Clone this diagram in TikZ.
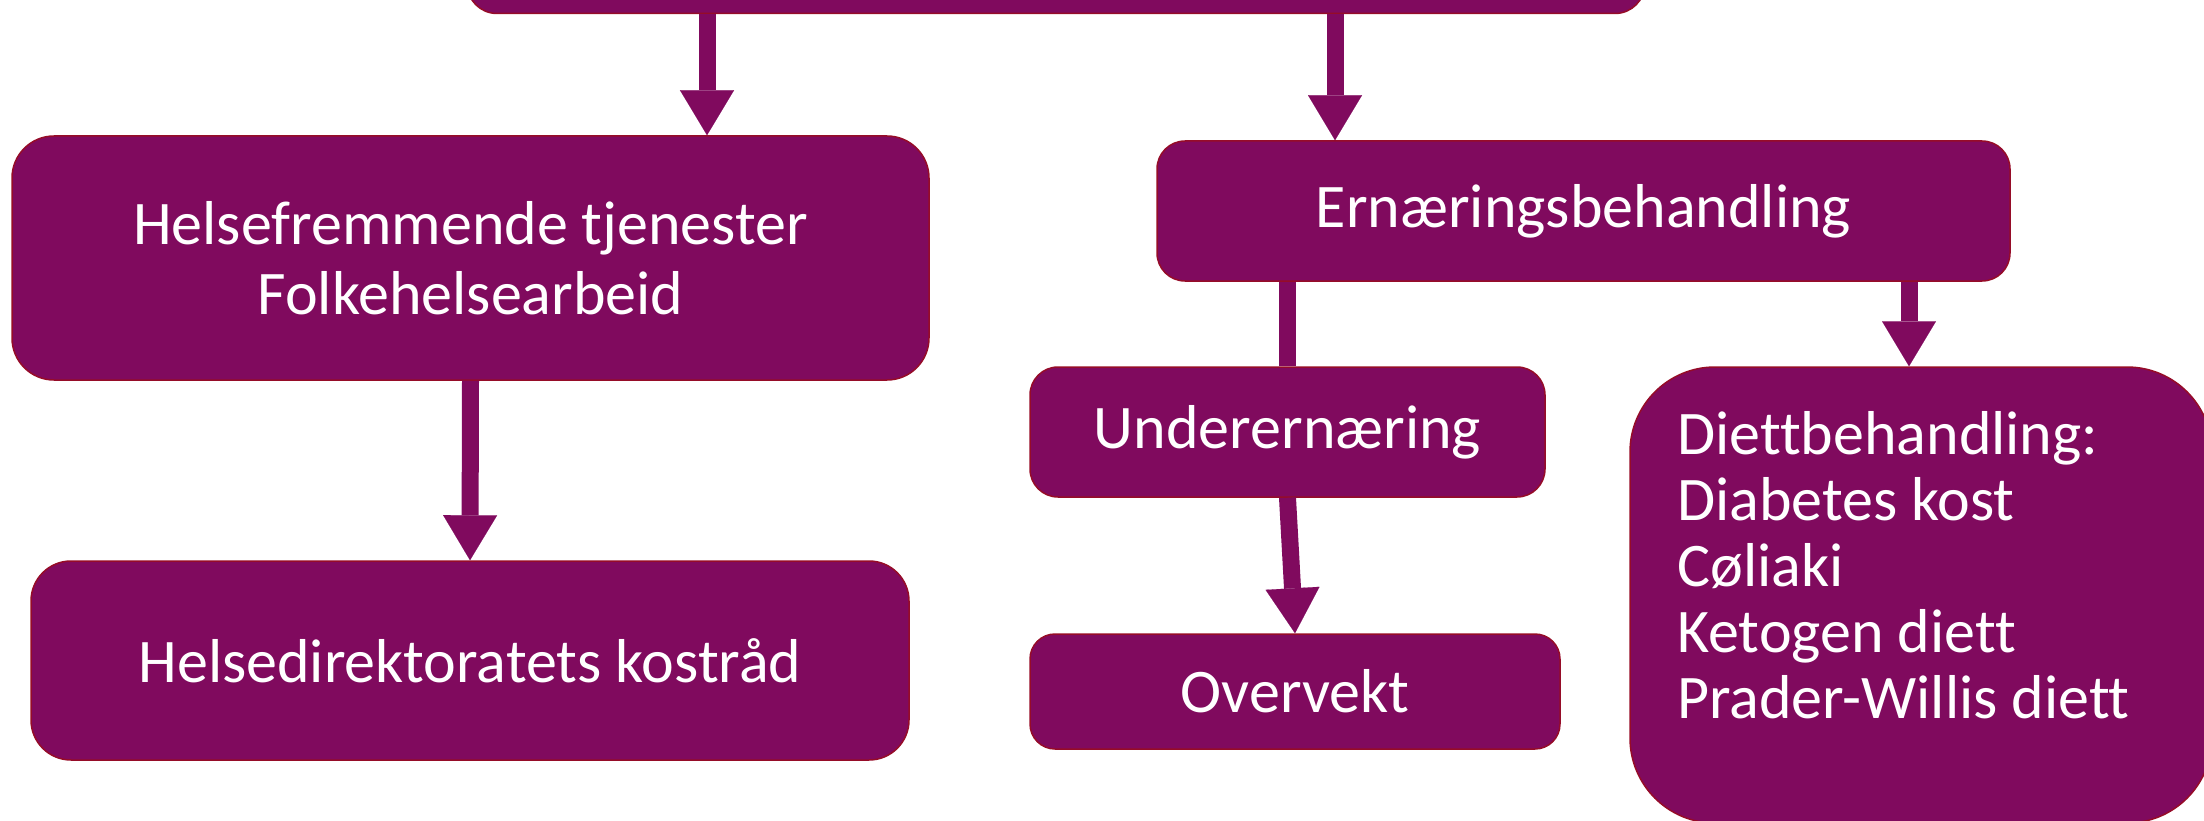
\documentclass[tikz,border=0pt]{standalone}
\usepackage{fontspec}
\setmainfont{Carlito}[Ligatures={NoCommon}]
\usetikzlibrary{arrows.meta}
\definecolor{plum}{RGB}{128,10,94}
\definecolor{rim}{RGB}{150,12,40}
\begin{document}
\begin{tikzpicture}[x=1pt,y=-1pt,
  box/.style={draw=rim,line width=1.5pt,fill=plum,text=white,inner sep=0pt,
    font=\fontsize{62}{70}\selectfont,align=center},
  arr/.style={draw=plum,line width=17pt,-{Triangle[width=54pt,length=45pt,line width=0.1pt]}},
  bar/.style={draw=plum,line width=17pt}]
\clip (0,0) rectangle (2204,821);
\node[box,rounded corners=30pt,minimum width=1178pt,minimum height=113pt] (top) at (1056,-43) {};
\node[box,rounded corners=42pt,minimum width=917pt,minimum height=244pt] (b1) at (470.5,258)
  {Helsefremmende tjenester\\Folkehelsearbeid};
\node[box,rounded corners=40pt,minimum width=878pt,minimum height=199pt] (b2) at (470,660.5)
  {Helsedirektoratets kostråd};
\node[box,rounded corners=28pt,minimum width=853pt,minimum height=140pt] (b3) at (1583.5,211)
  {Ernæringsbehandling};
\node[box,rounded corners=28pt,minimum width=515pt,minimum height=130pt] (under) at (1287.5,432)
  {Underernæring};
\node[box,rounded corners=25pt,minimum width=530pt,minimum height=115pt] (over) at (1295,691.5)
  {Overvekt};
\node[box,rounded corners=85pt,minimum width=582pt,minimum height=456pt] (diett) at (1921,595) {};
\node[text=white,inner sep=0pt,anchor=west,align=left,font=\fontsize{62}{66}\selectfont] (dtext) at (1677,565)
  {Diettbehandling:\\Diabetes kost\\Cøliaki\\Ketogen diett\\Prader-Willis diett};
\coordinate (ax1) at (707,0);
\coordinate (ax2) at (1335,0);
\coordinate (ax3) at (1909,0);
\draw[arr] (top.south -| ax1) -- (b1.north -| ax1);
\draw[arr] (top.south -| ax2) -- (b3.north -| ax2);
\draw[arr] (b1.south) -- (b2.north);
\draw[bar] (b3.south -| under.north) -- (under.north);
\draw[arr] (under.south) -- (over.north);
\draw[arr] (b3.south -| ax3) -- (diett.north -| ax3);
\end{tikzpicture}
\end{document}
